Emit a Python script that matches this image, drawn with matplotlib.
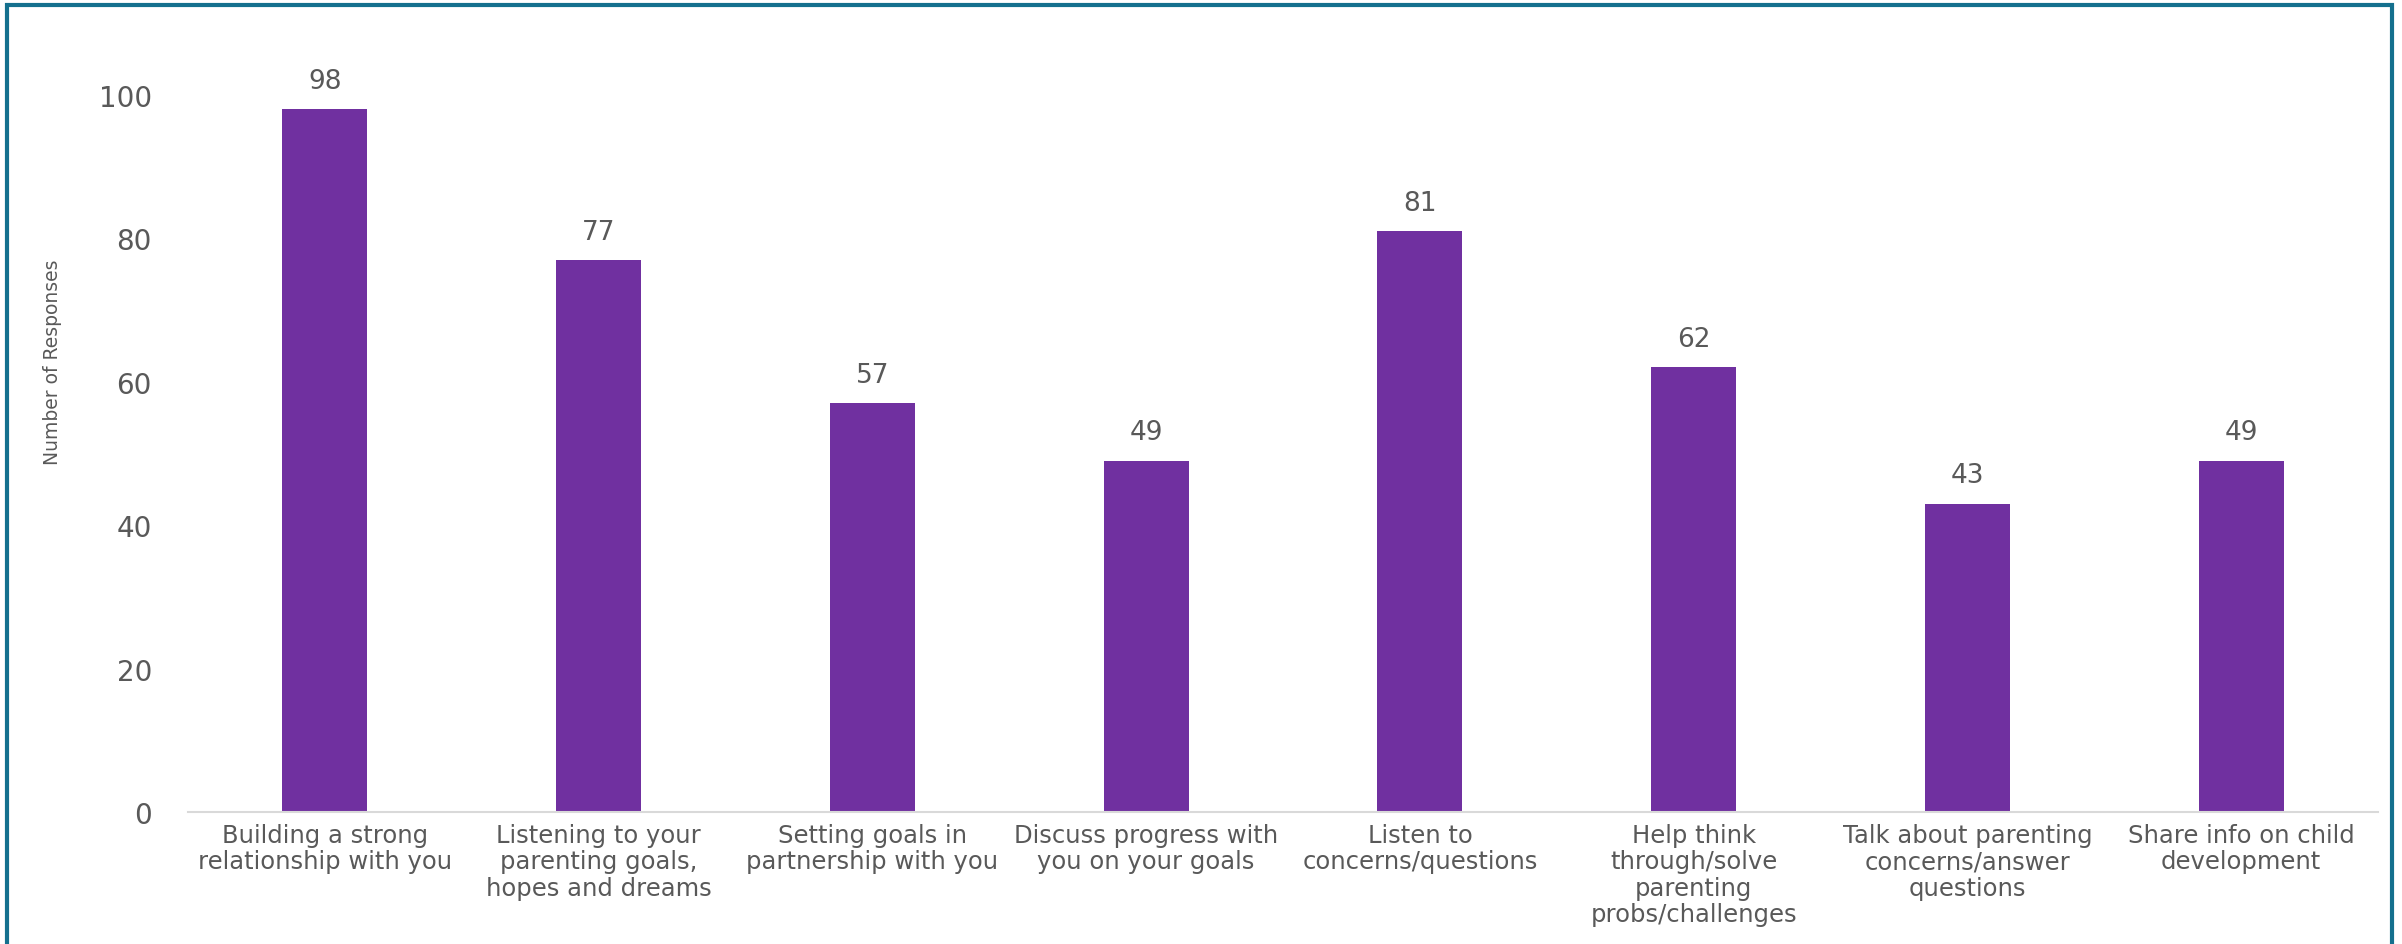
import matplotlib
matplotlib.use("Agg")
import matplotlib.pyplot as plt
from matplotlib.patches import Rectangle

categories = [
    "Building a strong\nrelationship with you",
    "Listening to your\nparenting goals,\nhopes and dreams",
    "Setting goals in\npartnership with you",
    "Discuss progress with\nyou on your goals",
    "Listen to\nconcerns/questions",
    "Help think\nthrough/solve\nparenting\nprobs/challenges",
    "Talk about parenting\nconcerns/answer\nquestions",
    "Share info on child\ndevelopment",
]
responses = [98, 77, 57, 49, 81, 62, 43, 49]
yticks = [0, 20, 40, 60, 80, 100]
ylabel = "Number of Responses"

BAR = "#7030A0"
TXT = "#595959"
BORDER = "#14708E"

W, H = 2402, 945
fig = plt.figure(figsize=(W / 100, H / 100), dpi=100)
ax = fig.add_axes([188 / W, (H - 813) / H, (2378 - 188) / W, (813 - 96) / H])

x = list(range(len(categories)))
ax.bar(x, responses, width=0.31, color=BAR, zorder=2)
ax.set_xlim(-0.5, len(categories) - 0.5)
ax.set_ylim(0, 100)
ax.set_yticks(yticks)
ax.set_yticklabels([str(v) for v in yticks], fontsize=20, color=TXT, family="DejaVu Sans")
ax.set_xticks(x)
ax.set_xticklabels(categories, fontsize=17.5, color=TXT, family="DejaVu Sans", linespacing=1.12)
ax.tick_params(axis="y", length=0, pad=26)
ax.tick_params(axis="x", length=0, pad=8)
for s in ["top", "right", "left"]:
    ax.spines[s].set_visible(False)
ax.spines["bottom"].set_color("#D9D9D9")
ax.spines["bottom"].set_linewidth(1.5)

for xi, v in zip(x, responses):
    ax.annotate(str(v), (xi, v), xytext=(0, 11), textcoords="offset points",
                ha="center", va="bottom", fontsize=19, color=TXT, family="DejaVu Sans")

fig.text(53 / W, (H - 362) / H, ylabel, rotation=90, ha="center", va="center",
         fontsize=13.5, color=TXT, family="DejaVu Sans")

fig.patches.append(Rectangle((7 / W, -0.05), (2392 - 7) / W, (H - 6) / H + 0.05,
                             transform=fig.transFigure, fill=False,
                             edgecolor=BORDER, linewidth=3, zorder=10))

fig.savefig("out.png", dpi=100)
